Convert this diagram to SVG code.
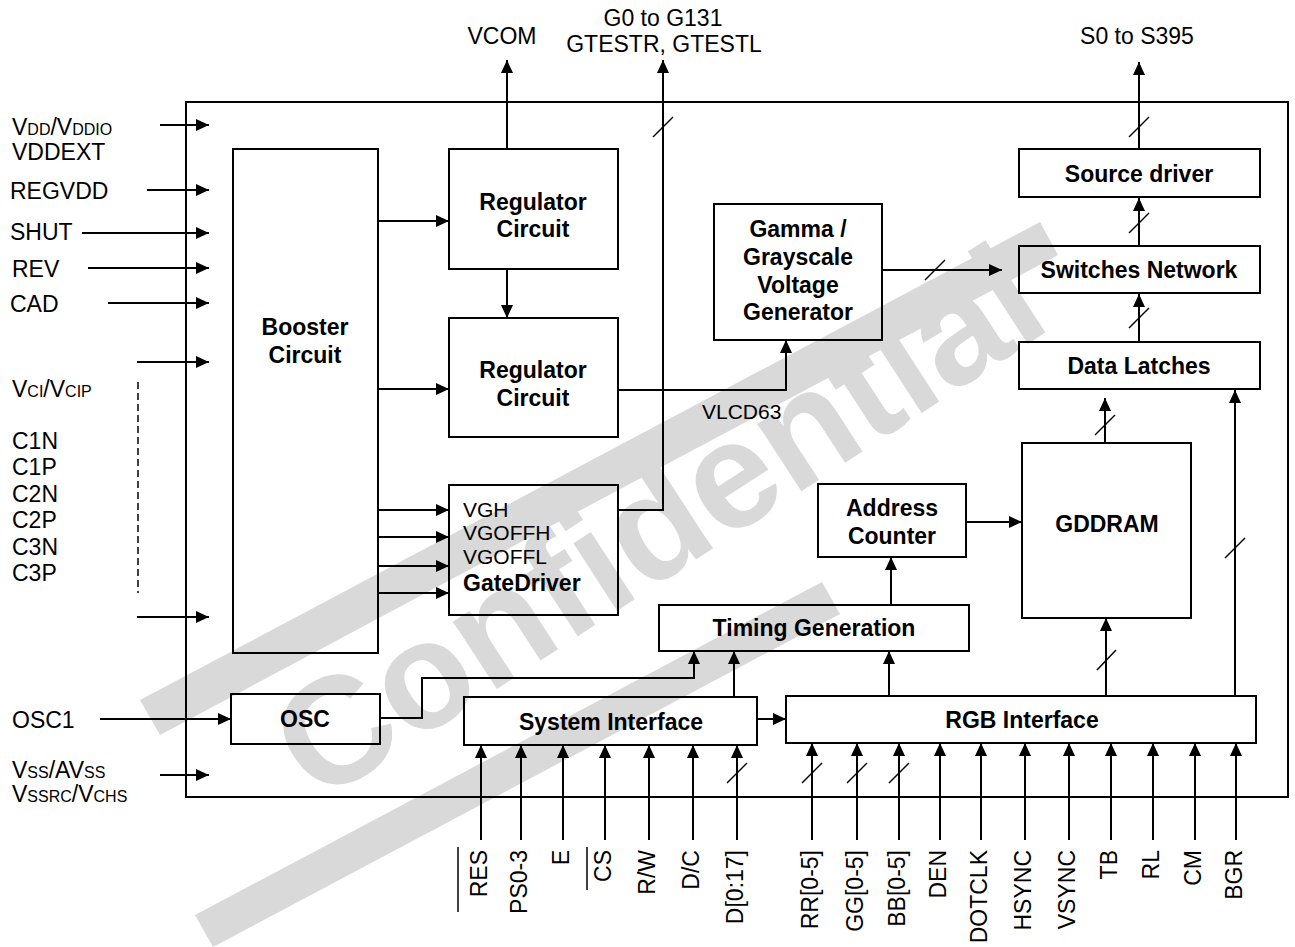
<svg xmlns="http://www.w3.org/2000/svg" width="1295" height="947" viewBox="0 0 1295 947">
<defs>
<marker id="ah" markerWidth="14" markerHeight="12" refX="13" refY="6" orient="auto" markerUnits="userSpaceOnUse"><path d="M0,0 L13,6 L0,12 z" fill="#000"/></marker>
<style>
text{font-family:"Liberation Sans",Arial,sans-serif;font-size:23px;fill:#000}
.b{font-weight:bold}
.sm{font-size:21px}
.box{fill:none;stroke:#000;stroke-width:2}
.frame{fill:none;stroke:#000;stroke-width:2}
.ar{fill:none;stroke:#000;stroke-width:2;marker-end:url(#ah)}
.sl{stroke:#000;stroke-width:1.5}
.sub{font-size:16px}
.wm{fill:#d9d9d9}
</style>
</defs>
<rect width="1295" height="947" fill="#fff"/>
<g id="watermark">
<polygon class="wm" points="140,700 1040,222 1058,255 160,735"/>
<polygon class="wm" points="195,915 822,582 840,614 213,947"/>
<text class="wm b" x="0" y="0" transform="translate(318,805) rotate(-33)" style="font-size:152px;fill:#d9d9d9">Confidential</text>
</g>
<rect class="frame" x="186" y="102" width="1102" height="695"/>
<g id="connectors">
<line class="ar" x1="160" y1="125" x2="209" y2="125"/>
<line class="ar" x1="147" y1="190" x2="209" y2="190"/>
<line class="ar" x1="82" y1="233" x2="209" y2="233"/>
<line class="ar" x1="88" y1="268" x2="209" y2="268"/>
<line class="ar" x1="108" y1="303" x2="209" y2="303"/>
<line class="ar" x1="137" y1="362" x2="209" y2="362"/>
<line class="ar" x1="137" y1="617" x2="209" y2="617"/>
<line x1="138" y1="382" x2="138" y2="593" stroke="#000" stroke-width="1.5" stroke-dasharray="7,4"/>
<line class="ar" x1="100" y1="719" x2="231" y2="719"/>
<line class="ar" x1="160" y1="775" x2="209" y2="775"/>
<line class="ar" x1="378" y1="221" x2="449" y2="221"/>
<line class="ar" x1="378" y1="389" x2="449" y2="389"/>
<line class="ar" x1="507" y1="269" x2="507" y2="318"/>
<line class="ar" x1="507" y1="149" x2="507" y2="60"/>
<line class="ar" x1="378" y1="510" x2="449" y2="510"/>
<line class="ar" x1="378" y1="537" x2="449" y2="537"/>
<line class="ar" x1="378" y1="566" x2="449" y2="566"/>
<line class="ar" x1="378" y1="593" x2="449" y2="593"/>
<polyline class="ar" points="618,510 663,510 663,60"/>
<line class="sl" x1="653" y1="137" x2="673" y2="117"/>
<polyline class="ar" points="618,390 786,390 786,340"/>
<line class="ar" x1="882" y1="270" x2="1002" y2="270"/>
<line class="sl" x1="925" y1="280" x2="945" y2="260"/>
<line class="ar" x1="1139" y1="149" x2="1139" y2="62"/>
<line class="sl" x1="1129" y1="137" x2="1149" y2="117"/>
<line class="ar" x1="1139" y1="246" x2="1139" y2="198"/>
<line class="sl" x1="1129" y1="233" x2="1149" y2="213"/>
<line class="ar" x1="1139" y1="342" x2="1139" y2="294"/>
<line class="sl" x1="1129" y1="328" x2="1149" y2="308"/>
<line class="ar" x1="1105" y1="443" x2="1105" y2="398"/>
<line class="sl" x1="1095" y1="435" x2="1115" y2="415"/>
<line class="ar" x1="1235" y1="696" x2="1235" y2="390"/>
<line class="sl" x1="1225" y1="558" x2="1245" y2="538"/>
<line class="ar" x1="966" y1="522" x2="1022" y2="522"/>
<line class="ar" x1="891" y1="605" x2="891" y2="557"/>
<line class="ar" x1="889" y1="696" x2="889" y2="651"/>
<line class="ar" x1="1106" y1="696" x2="1106" y2="618"/>
<line class="sl" x1="1097" y1="670" x2="1116" y2="650"/>
<polyline class="ar" points="380,718 422,718 422,678 694,678 694,651"/>
<line class="ar" x1="734" y1="697" x2="734" y2="651"/>
<line class="ar" x1="757" y1="719" x2="786" y2="719"/>
<line class="ar" x1="481" y1="840" x2="481" y2="745"/>
<line class="ar" x1="521" y1="840" x2="521" y2="745"/>
<line class="ar" x1="563" y1="840" x2="563" y2="745"/>
<line class="ar" x1="605" y1="840" x2="605" y2="745"/>
<line class="ar" x1="649" y1="840" x2="649" y2="745"/>
<line class="ar" x1="693" y1="840" x2="693" y2="745"/>
<line class="ar" x1="737" y1="840" x2="737" y2="745"/>
<line class="sl" x1="727" y1="783" x2="747" y2="763"/>
<line class="ar" x1="812" y1="840" x2="812" y2="743"/>
<line class="ar" x1="857" y1="840" x2="857" y2="743"/>
<line class="ar" x1="899" y1="840" x2="899" y2="743"/>
<line class="ar" x1="940" y1="840" x2="940" y2="743"/>
<line class="ar" x1="981" y1="840" x2="981" y2="743"/>
<line class="ar" x1="1025" y1="840" x2="1025" y2="743"/>
<line class="ar" x1="1069" y1="840" x2="1069" y2="743"/>
<line class="ar" x1="1111" y1="840" x2="1111" y2="743"/>
<line class="ar" x1="1153" y1="840" x2="1153" y2="743"/>
<line class="ar" x1="1195" y1="840" x2="1195" y2="743"/>
<line class="ar" x1="1236" y1="840" x2="1236" y2="743"/>
<line class="sl" x1="802" y1="783" x2="822" y2="763"/>
<line class="sl" x1="847" y1="783" x2="867" y2="763"/>
<line class="sl" x1="889" y1="783" x2="909" y2="763"/>
</g>
<g id="booster"><rect class="box" x="233" y="149" width="145" height="504"/><text class="b" x="305" y="335" text-anchor="middle">Booster</text><text class="b" x="305" y="363" text-anchor="middle">Circuit</text></g>
<g id="regulator1"><rect class="box" x="449" y="149" width="169" height="120"/><text class="b" x="533" y="210" text-anchor="middle">Regulator</text><text class="b" x="533" y="237" text-anchor="middle">Circuit</text></g>
<g id="regulator2"><rect class="box" x="449" y="318" width="169" height="119"/><text class="b" x="533" y="378" text-anchor="middle">Regulator</text><text class="b" x="533" y="406" text-anchor="middle">Circuit</text></g>
<g id="gatedriver"><rect class="box" x="449" y="485" width="169" height="130"/><text class="sm" x="463" y="517">VGH</text><text class="sm" x="463" y="540">VGOFFH</text><text class="sm" x="463" y="564">VGOFFL</text><text class="b" x="463" y="591">GateDriver</text></g>
<g id="gamma"><rect class="box" x="714" y="204" width="168" height="136"/><text class="b" x="798" y="237" text-anchor="middle">Gamma /</text><text class="b" x="798" y="265" text-anchor="middle">Grayscale</text><text class="b" x="798" y="293" text-anchor="middle">Voltage</text><text class="b" x="798" y="320" text-anchor="middle">Generator</text></g>
<g id="sourcedriver"><rect class="box" x="1019" y="149" width="241" height="48"/><text class="b" x="1139" y="182" text-anchor="middle">Source driver</text></g>
<g id="switches"><rect class="box" x="1019" y="246" width="241" height="47"/><text class="b" x="1139" y="278" text-anchor="middle">Switches Network</text></g>
<g id="latches"><rect class="box" x="1019" y="342" width="241" height="47"/><text class="b" x="1139" y="374" text-anchor="middle">Data Latches</text></g>
<g id="address"><rect class="box" x="818" y="484" width="148" height="73"/><text class="b" x="892" y="516" text-anchor="middle">Address</text><text class="b" x="892" y="544" text-anchor="middle">Counter</text></g>
<g id="gddram"><rect class="box" x="1022" y="443" width="169" height="175"/><text class="b" x="1107" y="532" text-anchor="middle">GDDRAM</text></g>
<g id="timing"><rect class="box" x="659" y="605" width="310" height="46"/><text class="b" x="814" y="636" text-anchor="middle">Timing Generation</text></g>
<g id="osc"><rect class="box" x="231" y="694" width="149" height="50"/><text class="b" x="305" y="727" text-anchor="middle">OSC</text></g>
<g id="sysif"><rect class="box" x="464" y="697" width="293" height="48"/><text class="b" x="611" y="730" text-anchor="middle">System Interface</text></g>
<g id="rgbif"><rect class="box" x="786" y="696" width="470" height="47"/><text class="b" x="1022" y="728" text-anchor="middle">RGB Interface</text></g>
<g id="labels">
<text x="12" y="135">V<tspan class="sub">DD</tspan>/V<tspan class="sub">DDIO</tspan></text>
<text x="12" y="160">VDDEXT</text>
<text x="10" y="199">REGVDD</text>
<text x="10" y="240">SHUT</text>
<text x="12" y="277">REV</text>
<text x="10" y="312">CAD</text>
<text x="12" y="397">V<tspan class="sub">CI</tspan>/V<tspan class="sub">CIP</tspan></text>
<text x="12" y="449">C1N</text>
<text x="12" y="475">C1P</text>
<text x="12" y="502">C2N</text>
<text x="12" y="528">C2P</text>
<text x="12" y="555">C3N</text>
<text x="12" y="581">C3P</text>
<text x="12" y="728">OSC1</text>
<text x="12" y="778">V<tspan class="sub">SS</tspan>/AV<tspan class="sub">SS</tspan></text>
<text x="12" y="802">V<tspan class="sub">SSRC</tspan>/V<tspan class="sub">CHS</tspan></text>
<text x="502" y="44" text-anchor="middle">VCOM</text>
<text x="663" y="26" text-anchor="middle">G0 to G131</text>
<text x="664" y="52" text-anchor="middle">GTESTR, GTESTL</text>
<text x="1137" y="44" text-anchor="middle">S0 to S395</text>
<text class="sm" x="702" y="419">VLCD63</text>
<g text-anchor="end">
<text transform="translate(487,850) rotate(-90)">RES</text>
<text transform="translate(527,850) rotate(-90)">PS0-3</text>
<text transform="translate(569,850) rotate(-90)">E</text>
<text transform="translate(611,850) rotate(-90)">CS</text>
<text transform="translate(655,850) rotate(-90)">R/W</text>
<text transform="translate(699,850) rotate(-90)">D/C</text>
<text transform="translate(743,850) rotate(-90)">D[0:17]</text>
<text transform="translate(818,850) rotate(-90)">RR[0-5]</text>
<text transform="translate(863,850) rotate(-90)">GG[0-5]</text>
<text transform="translate(905,850) rotate(-90)">BB[0-5]</text>
<text transform="translate(946,850) rotate(-90)">DEN</text>
<text transform="translate(987,850) rotate(-90)">DOTCLK</text>
<text transform="translate(1031,850) rotate(-90)">HSYNC</text>
<text transform="translate(1075,850) rotate(-90)">VSYNC</text>
<text transform="translate(1117,850) rotate(-90)">TB</text>
<text transform="translate(1159,850) rotate(-90)">RL</text>
<text transform="translate(1201,850) rotate(-90)">CM</text>
<text transform="translate(1242,850) rotate(-90)">BGR</text>
</g>
<line x1="458" y1="847" x2="458" y2="912" stroke="#000" stroke-width="1.5"/>
<line x1="587" y1="847" x2="587" y2="890" stroke="#000" stroke-width="1.5"/>
</g>
</svg>
